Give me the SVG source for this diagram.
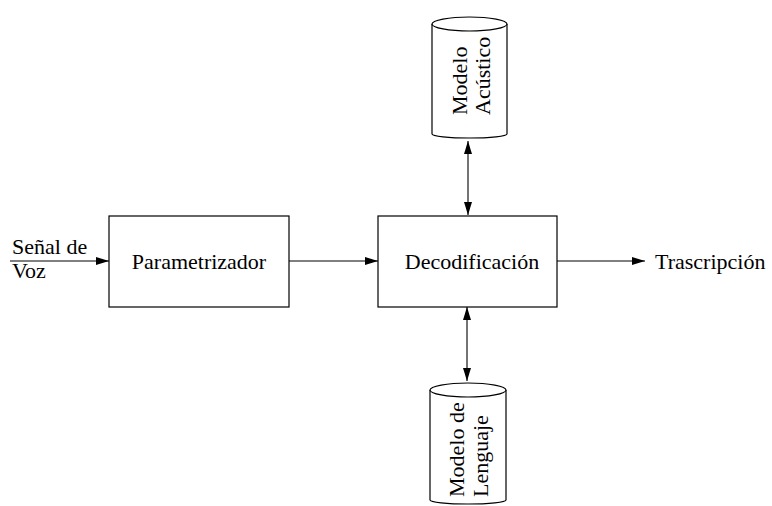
<svg xmlns="http://www.w3.org/2000/svg" width="772" height="506" viewBox="0 0 772 506">
<style>
.s{fill:#fff;stroke:#000;stroke-width:1.2}
.t{font-family:"Liberation Serif","Times New Roman",serif;font-size:22px;fill:#000}
.c{fill:none;stroke:#000;stroke-width:1.1}
</style>
<defs>
<marker id="a" markerWidth="14" markerHeight="10" refX="13" refY="5" orient="auto-start-reverse" markerUnits="userSpaceOnUse">
<path d="M0,1 L13,5 L0,9 Z" fill="#000"/>
</marker>
</defs>
<rect width="772" height="506" fill="#fff"/>
<g id="connectors">
<line class="c" x1="10" y1="261" x2="109" y2="261" marker-end="url(#a)"/>
<line class="c" x1="289" y1="261" x2="378" y2="261" marker-end="url(#a)"/>
<line class="c" x1="557" y1="261" x2="645" y2="261" marker-end="url(#a)"/>
<line class="c" x1="468" y1="141" x2="468" y2="215" marker-start="url(#a)" marker-end="url(#a)"/>
<line class="c" x1="467" y1="307" x2="467" y2="381" marker-start="url(#a)" marker-end="url(#a)"/>
</g>
<g id="senal">
<text class="t" x="12" y="254">Señal de</text>
<text class="t" x="12" y="278">Voz</text>
</g>
<g id="parametrizador">
<rect class="s" x="109" y="216" width="180" height="91"/>
<text class="t" x="199" y="269" text-anchor="middle">Parametrizador</text>
</g>
<g id="decodificacion">
<rect class="s" x="378" y="216" width="179" height="91"/>
<text class="t" x="472" y="269" text-anchor="middle">Decodificación</text>
</g>
<g id="trascripcion">
<text class="t" x="655" y="269">Trascripción</text>
</g>
<g id="modelo-acustico">
<path class="s" d="M432,24 V134 A37.5,4 0 0 0 507,134 V24"/>
<ellipse class="s" cx="469.5" cy="24" rx="37.5" ry="7"/>
<text class="t" transform="translate(467,115) rotate(-90)">Modelo</text>
<text class="t" transform="translate(490,115) rotate(-90)">Acústico</text>
</g>
<g id="modelo-lenguaje">
<path class="s" d="M430,390 V500 A38,4 0 0 0 506,500 V390"/>
<ellipse class="s" cx="468" cy="390" rx="38" ry="7"/>
<text class="t" transform="translate(464,497) rotate(-90)">Modelo de</text>
<text class="t" transform="translate(488,497) rotate(-90)">Lenguaje</text>
</g>
</svg>
